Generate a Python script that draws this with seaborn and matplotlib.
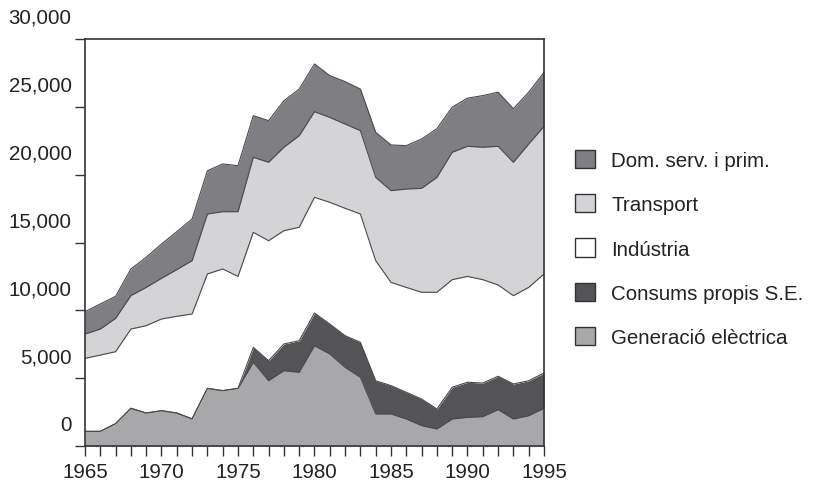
import numpy as np
import pandas as pd
import seaborn as sns
import matplotlib
matplotlib.use("Agg")
import matplotlib.pyplot as plt
from matplotlib.patches import Patch
from matplotlib.transforms import ScaledTranslation

years = list(range(1965, 1996))

generacio = [1080, 1080, 1650, 2780, 2430, 2600, 2430, 2000, 4250, 4080, 4250,
             6170, 4810, 5550, 5430, 7390, 6780, 5800, 5060, 2360, 2360, 1990,
             1500, 1250, 1990, 2110, 2160, 2680, 1990, 2230, 2780]
consums = [0, 0, 0, 0, 0, 0, 0, 0, 0, 0, 0,
           1100, 1480, 1970, 2330, 2410, 2210, 2330, 2580, 2450, 2090, 1970,
           1960, 1480, 2340, 2590, 2480, 2460, 2580, 2580, 2600]
industria = [5380, 5620, 5300, 5840, 6440, 6760, 7130, 7730, 8430, 8970, 8250,
             8480, 8840, 8350, 8360, 8530, 8970, 9390, 9460, 8850, 7610, 7730,
             7870, 8600, 7930, 7800, 7620, 6730, 6510, 6880, 7300]
transport = [1790, 1920, 2460, 2460, 2820, 3000, 3440, 3930, 4420, 4220, 4770,
             5530, 5780, 6150, 6750, 6310, 6260, 6210, 6140, 6140, 6760, 7250,
             7660, 8470, 9390, 9590, 9760, 10220, 9830, 10570, 10880]
domestic = [1650, 1850, 1620, 1970, 2220, 2530, 2800, 3070, 3190, 3520, 3390,
            3070, 3070, 3430, 3440, 3520, 3080, 3130, 3070, 3320, 3370, 3200,
            3640, 3590, 3330, 3550, 3810, 3990, 3950, 3820, 3980]

series_names = ["Generació elèctrica", "Consums propis S.E.", "Indústria",
                "Transport", "Dom. serv. i prim."]
series_colors = ["#a8a8ab", "#545457", "#ffffff", "#d4d4d6", "#7f7f83"]

yticks = [0, 5000, 10000, 15000, 20000, 25000, 30000]
ytick_labels = ["0", "5,000", "10,000", "15,000", "20,000", "25,000", "30,000"]
xtick_label_years = [1965, 1970, 1975, 1980, 1985, 1990, 1995]

sns.set_theme(style="white")
plt.rcParams["font.family"] = ["Liberation Sans", "DejaVu Sans"]

fig = plt.figure(figsize=(8.14, 4.81), dpi=100)
ax = fig.add_axes([85 / 814, 1 - 447 / 481, (544 - 85) / 814, (447 - 40) / 481])

data = [generacio, consums, industria, transport, domestic]
ax.stackplot(years, *data, colors=series_colors, linewidth=0)

df = pd.DataFrame({"year": years})
cum = np.cumsum(np.array(data), axis=0)
for i in range(len(data)):
    df["c%d" % i] = cum[i]
    sns.lineplot(data=df, x="year", y="c%d" % i, ax=ax, color="#4a4a4c",
                 linewidth=0.8, legend=False)

ax.set_xlim(1965, 1995)
ax.set_ylim(0, 30000)
ax.set_xlabel("")
ax.set_ylabel("")

ax.set_xticks(years)
ax.set_xticklabels([str(y) if y in xtick_label_years else "" for y in years])
ax.set_yticks(yticks)
ax.set_yticklabels(ytick_labels)

ax.tick_params(axis="both", which="both", direction="out", length=7.2, width=1,
               color="#333333", labelsize=14.8, labelcolor="#222222")
ax.tick_params(axis="y", pad=2.5)
ax.tick_params(axis="x", pad=4)
ax.tick_params(left=True, bottom=True)

for sp in ax.spines.values():
    sp.set_visible(True)
    sp.set_color("#333333")
    sp.set_linewidth(1.2)

offset = ScaledTranslation(0, 23.5 / 100, fig.dpi_scale_trans)
for lab in ax.get_yticklabels():
    lab.set_transform(lab.get_transform() + offset)

handles = [Patch(facecolor=c, edgecolor="#333333", linewidth=1, label=n)
           for n, c in zip(series_names, series_colors)][::-1]
fig.legend(handles=handles, loc="center left",
           bbox_to_anchor=(575 / 814, 1 - 249.5 / 481),
           frameon=False, fontsize=14.8, handlelength=0.98, handleheight=0.98,
           handletextpad=0.78, labelspacing=1.17, borderpad=0, borderaxespad=0,
           labelcolor="#222222")

fig.savefig("out.png", dpi=100)
